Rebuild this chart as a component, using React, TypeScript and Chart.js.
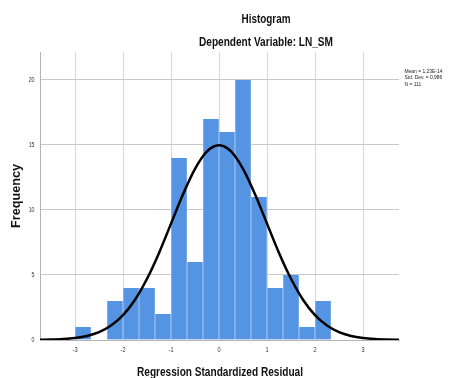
import React, { useEffect, useRef } from "react";
import { Chart, registerables } from "chart.js";
Chart.register(...registerables);

const binCenters = [-2.833, -2.5, -2.167, -1.833, -1.5, -1.167, -0.833, -0.5, -0.167, 0.167, 0.5, 0.833, 1.167, 1.5, 1.833, 2.167];
const frequencies = [1, 0, 3, 4, 4, 2, 14, 6, 17, 16, 20, 11, 4, 5, 1, 3];
const curveX = [-3.75, -3.5, -3.25, -3, -2.75, -2.5, -2.25, -2, -1.75, -1.5, -1.25, -1, -0.75, -0.5, -0.25, 0, 0.25, 0.5, 0.75, 1, 1.25, 1.5, 1.75, 2, 2.25, 2.5, 2.75, 3, 3.25, 3.5, 3.75];
const curveY = [0.01, 0.03, 0.07, 0.15, 0.31, 0.6, 1.11, 1.91, 3.1, 4.71, 6.7, 8.95, 11.21, 13.16, 14.5, 14.97, 14.5, 13.16, 11.21, 8.95, 6.7, 4.71, 3.1, 1.91, 1.11, 0.6, 0.31, 0.15, 0.07, 0.03, 0.01];
const xTicks = [-3, -2, -1, 0, 1, 2, 3];
const yTicks = [0, 5, 10, 15, 20];
const titleText = "Histogram";
const subtitleText = "Dependent Variable: LN_SM";
const xTitle = "Regression Standardized Residual";
const yTitle = "Frequency";
const statsLines = ["Mean = 1,23E-14", "Std. Dev. = 0,986", "N = 111"];

const FONT = '"Liberation Sans", Arial, sans-serif';

function drawText(ctx: CanvasRenderingContext2D, text: string, x: number, y: number, font: string, align: CanvasTextAlign, sx: number, baseline: CanvasTextBaseline = "alphabetic", rot = 0) {
  ctx.save();
  ctx.font = font;
  ctx.translate(x, y);
  if (rot) ctx.rotate(rot);
  ctx.scale(sx, 1);
  ctx.textAlign = align;
  ctx.textBaseline = baseline;
  ctx.fillText(text, 0, 0);
  ctx.restore();
}

function fitScale(ctx: CanvasRenderingContext2D, text: string, font: string, width: number) {
  ctx.save();
  ctx.font = font;
  const w = ctx.measureText(text).width;
  ctx.restore();
  return width / w;
}

const textPlugin = {
  id: "texts",
  afterDraw(chart: any) {
    const ctx: CanvasRenderingContext2D = chart.ctx;
    const xs = chart.scales.x;
    const ys = chart.scales.y;
    ctx.save();
    ctx.fillStyle = "#111";
    const tf = `bold 12px ${FONT}`;
    drawText(ctx, titleText, 266, 23, tf, "center", fitScale(ctx, titleText, tf, 49));
    drawText(ctx, subtitleText, 266, 45.5, tf, "center", fitScale(ctx, subtitleText, tf, 134));
    drawText(ctx, xTitle, 220, 376, tf, "center", fitScale(ctx, xTitle, tf, 166));
    drawText(ctx, yTitle, 19.5, 196, tf, "center", fitScale(ctx, yTitle, tf, 64), "alphabetic", -Math.PI / 2);
    ctx.fillStyle = "#333";
    const kf = `7px ${FONT}`;
    for (const v of xTicks) {
      drawText(ctx, String(v), xs.getPixelForValue(v), 350.5, kf, "center", 0.8, "middle");
    }
    for (const v of yTicks) {
      drawText(ctx, String(v), 34.5, ys.getPixelForValue(v), kf, "right", 0.75, "middle");
    }
    ctx.fillStyle = "#222";
    const lf = `5.8px ${FONT}`;
    const ly = [72.5, 79, 85.5];
    statsLines.forEach((s, i) => drawText(ctx, s, 404.5, ly[i], lf, "left", 0.85));
    ctx.restore();
  },
};

export default function App() {
  const ref = useRef<HTMLCanvasElement>(null);
  useEffect(() => {
    if (!ref.current) return;
    const chart = new Chart(ref.current, {
      type: "bar",
      data: {
        datasets: [
          {
            type: "line",
            data: curveX.map((x, i) => ({ x, y: curveY[i] })),
            borderColor: "#000",
            borderWidth: 2.5,
            pointRadius: 0,
            cubicInterpolationMode: "monotone",
            fill: false,
            order: 0,
          } as any,
          {
            type: "bar",
            data: binCenters.map((x, i) => ({ x, y: frequencies[i] })),
            backgroundColor: "rgb(85,148,226)",
            borderColor: "rgba(222,234,250,1)",
            borderWidth: { left: 0.6, right: 0.6, top: 0, bottom: 0 },
            borderSkipped: false,
            barPercentage: 1,
            categoryPercentage: 1,
            order: 1,
          } as any,
        ],
      },
      options: {
        responsive: false,
        animation: false,
        events: [],
        layout: { padding: { left: 0, right: 55, top: 52, bottom: 0 } },
        plugins: { legend: { display: false }, tooltip: { enabled: false }, title: { display: false } },
        scales: {
          x: {
            type: "linear",
            offset: false,
            min: -3.73,
            max: 3.75,
            afterBuildTicks: (s: any) => { s.ticks = xTicks.map((v) => ({ value: v })); },
            afterFit: (s: any) => { s.height = 38; },
            ticks: { display: false },
            grid: { color: "#d6d6d6", lineWidth: 1, drawTicks: false, offset: false },
            border: { color: "#b4b4b4", width: 1 },
          },
          y: {
            type: "linear",
            min: 0,
            max: 22.15,
            afterBuildTicks: (s: any) => { s.ticks = yTicks.map((v) => ({ value: v })); },
            afterFit: (s: any) => { s.width = 40; },
            ticks: { display: false },
            grid: { color: "#c8c8c8", lineWidth: 1, drawTicks: false },
            border: { color: "#b4b4b4", width: 1 },
          },
        },
      },
      plugins: [textPlugin],
    } as any);
    return () => chart.destroy();
  }, []);
  return (
    <div style={{ position: "absolute", left: 0, top: 0, width: 454, height: 378, background: "#fff" }}>
      <canvas ref={ref} width={454} height={378} style={{ width: 454, height: 378, display: "block" }} />
    </div>
  );
}
